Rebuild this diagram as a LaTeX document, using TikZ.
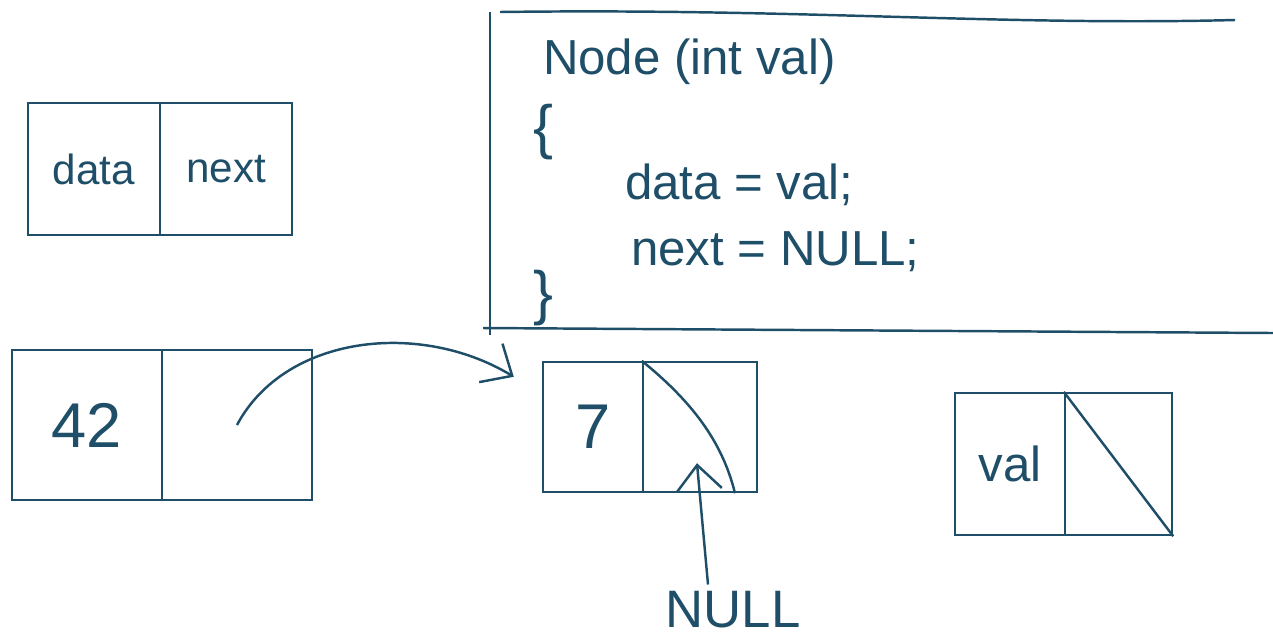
\documentclass[tikz,border=0pt]{standalone}
\usepackage{fontspec}
\setmainfont{Liberation Sans}
\usetikzlibrary{arrows.meta,positioning}
\definecolor{ink}{RGB}{30,78,104}
\newcommand{\inksize}[1]{\fontsize{#1}{#1}\selectfont}
\tikzset{
  cell/.style={draw,rectangle,inner sep=0pt},
  code/.style={anchor=west,font=\inksize{28}},
  ptr/.style={-{Straight Barb[length=5mm,width=9mm]}},
}
\begin{document}
\begin{tikzpicture}[x=0.02cm,y=-0.02cm,color=ink,line width=1.4pt,node distance=-1.4pt]
\useasboundingbox (0,0) rectangle (1273,640);

%見本のノード
\node[cell,minimum width=2.64cm,minimum height=2.64cm,font=\inksize{24}] (hdata) at (94,169) {data};
\node[cell,minimum width=2.64cm,minimum height=2.64cm,font=\inksize{24},right=of hdata] (hnext) {next};

%コンストラクタ枠
\draw (490,12) -- (490,335); %枠左
\draw (500,12) .. controls (800,8) and (1000,26) .. (1235,20); %枠上
\draw (483,328) -- (1273,333); %枠下
\node[code] (sig) at (536,62) {Node (int val)};
\node[code,font=\inksize{34}] (lb) at (526,132) {\{};
\node[code] (l1) at (618,185) {data = val;};
\node[code] (l2) at (624,252) {next = NULL;};
\node[code,font=\inksize{34}] (rb) at (526,298) {\}};

%42のノード
\node[cell,minimum width=3cm,minimum height=3cm,font=\inksize{36}] (adata) at (87,425) {42};
\node[cell,minimum width=3cm,minimum height=3cm,right=of adata] (anext) {};

%7のノード
\node[cell,minimum width=2cm,minimum height=2.6cm,font=\inksize{36}] (bdata) at (593,427) {7};
\node[cell,minimum width=2.28cm,minimum height=2.6cm,right=of bdata] (bnext) {};
\draw (bnext.north west) .. controls (690,400) and (722,440) .. ([shift={(35,0)}]bnext.south); %斜線

%valのノード
\node[cell,minimum width=2.2cm,minimum height=2.84cm,font=\inksize{28}] (cdata) at (1010,464) {val};
\node[cell,minimum width=2.14cm,minimum height=2.84cm,right=of cdata] (cnext) {};
\draw (cnext.north west) -- (cnext.south east); %斜線

%矢印
\draw[ptr] (anext.center) .. controls (285,335) and (420,320) .. ([shift={(-28,16)}]bdata.north west);
\node[font=\inksize{30}] (null) at (733,610) {NULL};
\draw[ptr] ([shift={(-25,0)}]null.north) -- ([shift={(-3,-30)}]bnext.south);
\end{tikzpicture}
\end{document}
